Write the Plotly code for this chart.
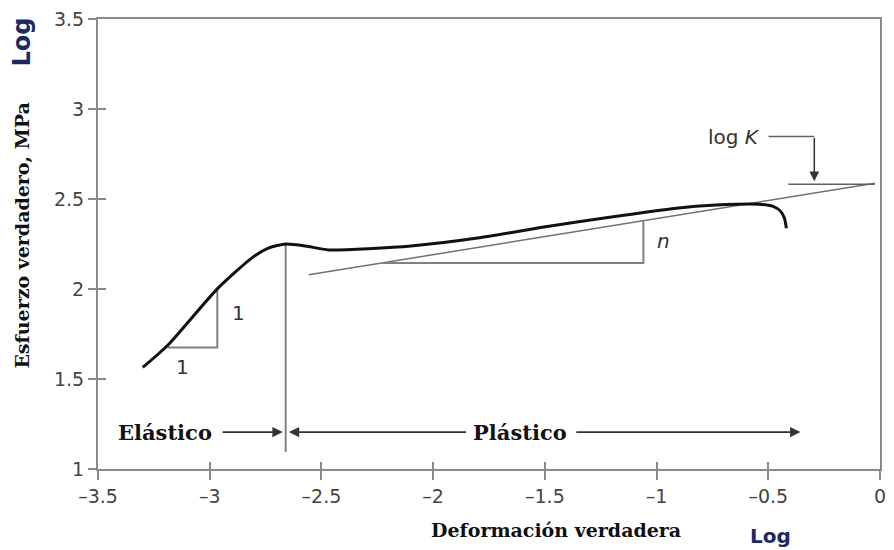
import plotly.graph_objects as go

# ---- data (log true strain, log true stress) ----
strain_curve = [-3.300, -3.189, -2.966, -2.811, -2.735, -2.660, -2.571, -2.468, -2.099,
                -1.801, -1.504, -1.210, -0.912, -0.734, -0.543, -0.481, -0.445, -0.428, -0.419]
stress_curve = [1.564, 1.686, 2.001, 2.173, 2.228, 2.250, 2.239, 2.217, 2.239,
                2.283, 2.344, 2.399, 2.449, 2.466, 2.471, 2.460, 2.432, 2.394, 2.338]

fit_x = [-2.557, -0.023]
fit_y = [2.079, 2.587]

slope1_x = [-3.189, -2.966, -2.966]
slope1_y = [1.675, 1.675, 2.001]

slopen_x = [-2.228, -1.059, -1.059]
slopen_y = [2.145, 2.145, 2.379]

divider_x = [-2.660, -2.660]
divider_y = [2.250, 1.094]

logk_x = [-0.410, -0.023]
logk_y = [2.582, 2.582]
logk_lead_x = [-0.499, -0.294]
logk_lead_y = [2.847, 2.847]
logk_head = (-0.294, 2.598)

arrow_y = 1.205
elastic_arrow = (-2.949, -2.673)   # tail, head
plastic_left_arrow = (-1.846, -2.646)
plastic_right_arrow = (-1.366, -0.356)

x_ticks = [-3.5, -3, -2.5, -2, -1.5, -1, -0.5, 0]
x_ticktext = ["–3.5", "–3", "–2.5", "–2", "–1.5", "–1", "–0.5", "0"]
y_ticks = [1, 1.5, 2, 2.5, 3, 3.5]
y_ticktext = ["1", "1.5", "2", "2.5", "3", "3.5"]

x_range = [-3.5, 0]
y_range = [1, 3.5]

labels = [  # text, x, y
    ("Elástico", -3.198, arrow_y),
    ("Plástico", -1.610, arrow_y),
]
small_labels = [
    ("1", -2.869, 1.868),
    ("1", -3.122, 1.564),
    ("<i>n</i>", -0.970, 2.267),
    ("log <i>K</i>", -0.655, 2.847),
]

GRAY = "#8a8a8a"
TICKFONT = dict(family="DejaVu Sans", size=19, color="#444444")
SERIF = "DejaVu Serif"
LOGCOLOR = "#1c2a64"

fig = go.Figure()

def line(x, y, color, width):
    fig.add_trace(go.Scatter(x=x, y=y, mode="lines", line=dict(color=color, width=width),
                             hoverinfo="skip", showlegend=False))

line(fit_x, fit_y, "#707070", 1.5)
line(slope1_x, slope1_y, "#808080", 2)
line(slopen_x, slopen_y, "#808080", 2)
line(divider_x, divider_y, "#808080", 2)
line(logk_x, logk_y, "#606060", 1.5)
line(logk_lead_x, logk_lead_y, "#606060", 1.5)
fig.add_trace(go.Scatter(x=strain_curve, y=stress_curve, mode="lines",
                         line=dict(color="#111111", width=3, shape="spline", smoothing=0.6),
                         hoverinfo="skip", showlegend=False))
# invisible trace for the overlay axes (inner ticks)
fig.add_trace(go.Scatter(x=[x_range[0]], y=[y_range[0]], mode="markers", xaxis="x2", yaxis="y2",
                         marker=dict(opacity=0), hoverinfo="skip", showlegend=False))

def arrow(tail, head, y):
    fig.add_annotation(x=head, y=y, ax=tail, ay=y, xref="x", yref="y", axref="x", ayref="y",
                       showarrow=True, arrowhead=2, arrowsize=1.3, arrowwidth=1.6,
                       arrowcolor="#333333", standoff=0, text="")

arrow(*elastic_arrow, arrow_y)
arrow(*plastic_left_arrow, arrow_y)
arrow(*plastic_right_arrow, arrow_y)
fig.add_annotation(x=logk_head[0], y=logk_head[1], ax=logk_lead_x[1], ay=logk_lead_y[1],
                   xref="x", yref="y", axref="x", ayref="y", showarrow=True, arrowhead=2,
                   arrowsize=1.3, arrowwidth=1.5, arrowcolor="#333333", standoff=0, text="")

for t, x, y in labels:
    fig.add_annotation(x=x, y=y, text=f"<b>{t}</b>", showarrow=False, xref="x", yref="y",
                       xanchor="center", yanchor="middle",
                       font=dict(family=SERIF, size=21, color="#111111"), bgcolor="white")
for t, x, y in small_labels:
    fig.add_annotation(x=x, y=y, text=t, showarrow=False, xref="x", yref="y",
                       xanchor="center", yanchor="middle",
                       font=dict(family="DejaVu Sans", size=20, color="#333333"))

# axis titles and "Log" marks (paper coords; plot area spans x 98..886 px, y 17..469 px)
def paper_text(text, px, py, size, family, color, angle=0):
    fig.add_annotation(x=(px - 98) / 788, y=(469 - py) / 452, xref="paper", yref="paper",
                       xanchor="center", yanchor="middle", text=text, textangle=angle,
                       showarrow=False, font=dict(family=family, size=size, color=color))

paper_text("<b>Esfuerzo verdadero, MPa</b>", 21, 235, 19, SERIF, "#111111", -90)
paper_text("<b>Deformación verdadera</b>", 560, 530, 19, SERIF, "#111111")
paper_text("<b>Log</b>", 21, 40, 24, "DejaVu Sans", LOGCOLOR, -90)
paper_text("<b>Log</b>", 776, 536, 20, "DejaVu Sans", LOGCOLOR)

axis_common = dict(showgrid=False, zeroline=False, linecolor=GRAY, linewidth=2,
                   tickcolor=GRAY, tickwidth=2)
fig.update_layout(
    width=894, height=550,
    margin=dict(l=98, r=8, t=17, b=81),
    paper_bgcolor="white", plot_bgcolor="white",
    xaxis=dict(range=x_range, tickvals=x_ticks, ticktext=x_ticktext, ticks="outside", ticklen=9,
               showline=True, mirror=True, tickfont=TICKFONT, **axis_common),
    yaxis=dict(range=y_range, tickvals=y_ticks, ticktext=y_ticktext, ticks="outside", ticklen=8,
               showline=True, mirror=True, tickfont=TICKFONT, **axis_common),
    xaxis2=dict(range=x_range, tickvals=x_ticks, ticks="inside", ticklen=7, overlaying="x",
                showticklabels=False, showline=False, showgrid=False, zeroline=False,
                tickcolor=GRAY, tickwidth=2),
    yaxis2=dict(range=y_range, tickvals=y_ticks, ticks="inside", ticklen=8, overlaying="y",
                showticklabels=False, showline=False, showgrid=False, zeroline=False,
                tickcolor=GRAY, tickwidth=2),
)

fig.write_html("out.html", config={"displayModeBar": False},
               post_script="document.body.style.margin='0px';")
